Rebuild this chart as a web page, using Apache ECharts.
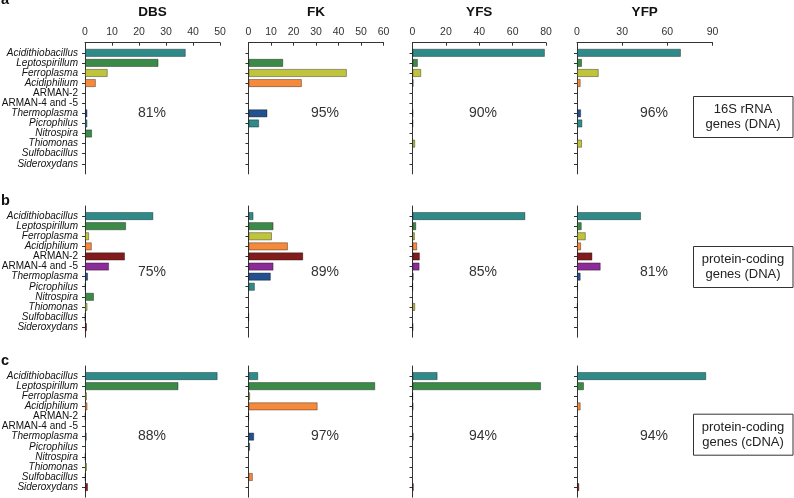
<!DOCTYPE html>
<html>
<head>
<meta charset="utf-8">
<script src="https://cdn.jsdelivr.net/npm/echarts@6/dist/echarts.min.js"></script>
<style>
html,body{margin:0;padding:0;background:#fff;}
#chart{width:794px;height:498px;}
</style>
</head>
<body>
<div id="chart"></div>
<script>
// ---------- data ----------
const categories = ['Acidithiobacillus','Leptospirillum','Ferroplasma','Acidiphilium','ARMAN-2','ARMAN-4 and -5','Thermoplasma','Picrophilus','Nitrospira','Thiomonas','Sulfobacillus','Sideroxydans'];
const sites = ['DBS','FK','YFS','YFP'];
const axisMax = [50, 60, 80, 90];
const axisStep = [10, 10, 20, 30];
const panelLetters = ['a','b','c'];
const rowLabels = ['16S rRNA\ngenes (DNA)', 'protein-coding\ngenes (DNA)', 'protein-coding\ngenes (cDNA)'];

// row a: 16S rRNA genes (DNA)
const rrnaDBS = [37.3, 27.2, 8.4, 4.0, 0, 0, 0.9, 0.9, 2.6, 0, 0, 0];
const rrnaFK  = [0, 15.4, 43.7, 23.7, 0, 0, 8.4, 4.7, 0, 0, 0, 0];
const rrnaYFS = [79.3, 3.2, 5.2, 0.6, 0, 0, 0.3, 0.3, 0, 1.6, 0, 0];
const rrnaYFP = [69, 3.3, 14.4, 2.4, 0, 0, 2.7, 3.5, 0, 3.3, 0, 0];
// row b: protein-coding genes (DNA)
const dnaDBS = [25.3, 15.2, 1.5, 2.5, 14.8, 8.9, 1.1, 0.2, 3.3, 0.9, 0.1, 0.7];
const dnaFK  = [2.2, 11.1, 10.4, 17.5, 24.3, 11.1, 9.9, 2.8, 0, 0, 0.1, 0];
const dnaYFS = [67.6, 2.2, 1.4, 2.8, 4.4, 4.2, 0.6, 0.2, 0, 1.6, 0, 0.4];
const dnaYFP = [42.5, 3.1, 5.8, 2.7, 10.2, 15.7, 2.4, 0.7, 0, 0.5, 0, 0];
// row c: protein-coding genes (cDNA)
const cdnaDBS = [49.1, 34.6, 0.7, 0.9, 0.2, 0, 0.6, 0, 0.2, 0.7, 0.2, 1.1];
const cdnaFK  = [4.3, 56.3, 0.7, 30.7, 0.1, 0, 2.5, 0.7, 0, 0, 1.9, 0];
const cdnaYFS = [15, 77, 0.2, 0.5, 0, 0, 0.6, 0, 0, 0, 0, 0.7];
const cdnaYFP = [85.8, 4.6, 0, 2.4, 0, 0, 0.2, 0, 0, 0, 0, 1.5];

const pctRRNA = ['81%','95%','90%','96%'];
const pctDNA  = ['75%','89%','85%','81%'];
const pctCDNA = ['88%','97%','94%','94%'];

// ---------- styles / layout ----------
const categoryColors = ['#2f8a8a','#3b8a48','#c0c43c','#f5893c','#821c1c','#8c2c98','#23508e','#2f8a8a','#3b8a48','#c0c43c','#f5893c','#821c1c'];
const rows = [
  {values: [rrnaDBS, rrnaFK, rrnaYFS, rrnaYFP], pct: pctRRNA},
  {values: [dnaDBS, dnaFK, dnaYFS, dnaYFP], pct: pctDNA},
  {values: [cdnaDBS, cdnaFK, cdnaYFS, cdnaYFP], pct: pctCDNA}
];
const colLeft = [85, 248.5, 412.5, 577];
const colWidth = [135, 135, 133.5, 135.5];
const rowTop = [42.7, 206, 366];
const rowHeight = 131.2;
const pctX = [152, 325, 483, 654];
const pctY = [113.5, 272.5, 436];
const boxY = [117, 267, 434.7];
const letterY = [7.5, 208.5, 368.5];
const FONT = '"Liberation Sans", Arial, Helvetica, sans-serif';

// padded category list: empty slot at both ends
const yCats = [''].concat(categories, ['']);

const grid = [], xAxis = [], yAxis = [], series = [], graphic = [];
rows.forEach((row, r) => {
  sites.forEach((site, c) => {
    const idx = grid.length;
    grid.push({left: colLeft[c], top: rowTop[r], width: colWidth[c], height: rowHeight, containLabel: false, outerBoundsMode: 'none'});
    xAxis.push({
      type: 'value', gridIndex: idx, position: 'top', min: 0, max: axisMax[c], interval: axisStep[c],
      show: r === 0,
      name: r === 0 ? site : '', nameLocation: 'middle', nameGap: 30,
      nameTextStyle: {fontFamily: FONT, fontSize: 13.5, fontWeight: 'bold', color: '#111', verticalAlign: 'middle'},
      axisLine: {show: true, lineStyle: {color: '#333', width: 1}},
      axisTick: {show: true, inside: true, length: 3, lineStyle: {color: '#333'}},
      axisLabel: {fontFamily: FONT, fontSize: 10.5, color: '#333', margin: 5},
      splitLine: {show: false}
    });
    yAxis.push({
      type: 'category', gridIndex: idx, data: yCats, inverse: true, boundaryGap: false,
      axisLine: {show: true, lineStyle: {color: '#333', width: 1}},
      axisTick: {show: true, length: 3, interval: (i, v) => v !== '', lineStyle: {color: '#333'}},
      axisLabel: {
        show: c === 0, interval: 0, margin: 7,
        fontFamily: FONT, fontSize: 10, color: '#111',
        formatter: v => v === '' ? '' : (v.indexOf('ARMAN') === 0 ? '{n|' + v + '}' : '{i|' + v + '}'),
        rich: {
          i: {fontFamily: FONT, fontSize: 10, fontStyle: 'italic', color: '#111'},
          n: {fontFamily: FONT, fontSize: 10, color: '#111'}
        }
      },
      splitLine: {show: false}
    });
    const vals = row.values[c];
    series.push({
      type: 'bar', xAxisIndex: idx, yAxisIndex: idx, barWidth: 8, silent: true,
      data: [null].concat(vals.map((v, k) => ({
        value: v,
        itemStyle: {color: categoryColors[k], borderColor: 'rgba(0,0,0,0.45)', borderWidth: v > 0 ? 0.8 : 0}
      })), [null]),
      animation: false
    });
    graphic.push({
      type: 'text', x: pctX[c], y: pctY[r], silent: true,
      style: {text: row.pct[c], fontFamily: FONT, fontSize: 14, fill: '#333', textAlign: 'center', textVerticalAlign: 'middle'}
    });
  });
  graphic.push({
    type: 'rect', shape: {x: 693.5, y: boxY[r] - 20.5, width: 99.5, height: 41}, silent: true,
    style: {fill: '#fff', stroke: '#333', lineWidth: 1}
  });
  graphic.push({
    type: 'text', x: 743, y: boxY[r], silent: true,
    style: {text: rowLabels[r], fontFamily: FONT, fontSize: 13, lineHeight: 15.5, fill: '#222', textAlign: 'center', textVerticalAlign: 'middle'}
  });
  graphic.push({
    type: 'text', x: 1, y: letterY[r], silent: true,
    style: {text: panelLetters[r], fontFamily: FONT, fontSize: 14.5, fontWeight: 'bold', fill: '#111', textAlign: 'left', textVerticalAlign: 'bottom'}
  });
});

const chart = echarts.init(document.getElementById('chart'), null, {renderer: 'canvas'});
chart.setOption({
  animation: false,
  backgroundColor: '#fff',
  grid, xAxis, yAxis, series, graphic
});
</script>
</body>
</html>
